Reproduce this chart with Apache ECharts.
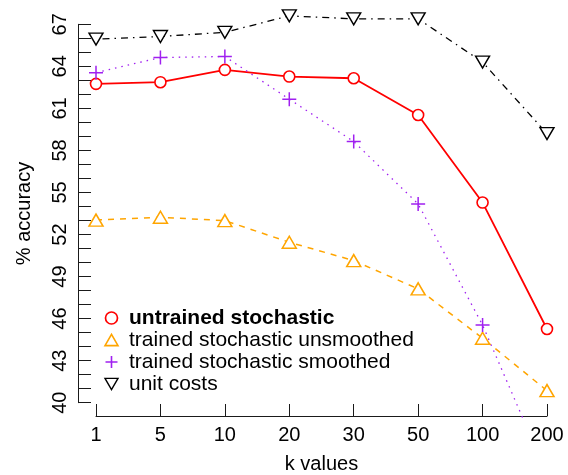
<!DOCTYPE html>
<html>
<head>
<meta charset="utf-8">
<script src="https://cdn.jsdelivr.net/npm/echarts@6/dist/echarts.min.js"></script>
<style>
html,body{margin:0;padding:0;background:#fff;}
#chart{width:568px;height:475px;}
</style>
</head>
<body>
<div id="chart"></div>
<script>
var categories = ['1', '5', '10', '20', '30', '50', '100', '200'];
var untrainedStochastic = [62.75, 62.87, 63.75, 63.27, 63.15, 60.53, 54.28, 45.26];
var trainedUnsmoothed = [53.03, 53.23, 52.99, 51.45, 50.14, 48.12, 44.6, 40.86];
var trainedSmoothed = [63.55, 64.63, 64.7, 61.66, 58.63, 54.18, 45.54, 34.9];
var unitCosts = [65.94, 66.13, 66.43, 67.6, 67.39, 67.39, 64.3, 59.2];
var yTickMin = 40, yTickMax = 67, yLabelStep = 3;
var seriesNames = ['untrained stochastic', 'trained stochastic unsmoothed', 'trained stochastic smoothed', 'unit costs'];

function pts(arr) { return arr.map(function (v, i) { return [i, v]; }); }

var FONT = 'Liberation Sans, Arial, sans-serif';
var AX = '#1a1a1a';
var circ = 'path://M0,1 A1,1 0 1,1 2,1 A1,1 0 1,1 0,1 Z';
var upTri = 'path://M0,1.732 L2,1.732 L1,0 Z';
var downTri = 'path://M0,0 L2,0 L1,1.732 Z';
var plus = 'path://M1,0 L1,2 M0,1 L2,1';

var nCat = categories.length;
var xPad = 0.28, yPad = (yTickMax - yTickMin) * 0.04;

var chart = echarts.init(document.getElementById('chart'), null, {renderer: 'canvas'});
chart.setOption({
  animation: false,
  backgroundColor: '#fff',
  grid: [
    {left: 77.96, right: 2.96, top: 9.16, bottom: 57.16},
    {left: 78, top: 24.3, bottom: 72.3, width: 20},
    {left: 96, right: 21, top: 400, bottom: 57.7}
  ],
  xAxis: [
    {gridIndex: 0, type: 'value', min: -xPad, max: nCat - 1 + xPad, show: false},
    {gridIndex: 1, type: 'value', show: false},
    {gridIndex: 2, type: 'category', data: categories, boundaryGap: false, position: 'bottom',
      axisLine: {show: true, lineStyle: {color: AX, width: 1}},
      axisTick: {show: true, inside: true, length: 12, alignWithLabel: true, lineStyle: {color: AX, width: 1}},
      axisLabel: {show: true, color: '#000', fontSize: 20, fontFamily: FONT, margin: 9, interval: 0},
      splitLine: {show: false},
      name: 'k values', nameLocation: 'middle', nameGap: 38,
      nameTextStyle: {color: '#000', fontSize: 20, fontFamily: FONT}
    }
  ],
  yAxis: [
    {gridIndex: 0, type: 'value', min: yTickMin - yPad, max: yTickMax + yPad, show: false},
    {gridIndex: 1, type: 'value', min: yTickMin, max: yTickMax, interval: 1, position: 'left',
      axisLine: {show: true, lineStyle: {color: AX, width: 1}},
      axisTick: {show: true, inside: true, length: 13, lineStyle: {color: AX, width: 1}},
      axisLabel: {show: true, rotate: 90, color: '#000', fontSize: 20, fontFamily: FONT, margin: 8,
        formatter: function (v) { return ((v - yTickMin) % yLabelStep === 0) ? String(v) : ''; }},
      splitLine: {show: false},
      name: '% accuracy', nameLocation: 'middle', nameGap: 44,
      nameTextStyle: {color: '#000', fontSize: 20, fontFamily: FONT}
    },
    {gridIndex: 2, type: 'value', show: false}
  ],
  legend: {
    orient: 'vertical', left: 103, top: 307, padding: 0, itemGap: 0, itemWidth: 13, itemHeight: 12,
    textStyle: {fontSize: 21, lineHeight: 22, fontFamily: FONT, color: '#000', padding: [0, 0, 0, 6]},
    data: [
      {name: seriesNames[0], icon: circ, itemStyle: {color: '#fff', borderColor: '#ff0000', borderWidth: 1.7}, textStyle: {fontWeight: 'bold'}},
      {name: seriesNames[1], icon: upTri, itemStyle: {color: '#fff', borderColor: '#ffa500', borderWidth: 1.6}},
      {name: seriesNames[2], icon: plus, itemStyle: {color: 'none', borderColor: '#a020f0', borderWidth: 1.6}},
      {name: seriesNames[3], icon: downTri, itemStyle: {color: '#fff', borderColor: '#000', borderWidth: 1.4}}
    ]
  },
  series: [
    {name: seriesNames[0], type: 'line', xAxisIndex: 0, yAxisIndex: 0, data: pts(untrainedStochastic),
      symbol: 'circle', symbolSize: 11,
      itemStyle: {color: '#fff', borderColor: '#ff0000', borderWidth: 1.6},
      lineStyle: {color: '#ff0000', width: 1.8}},
    {name: seriesNames[1], type: 'line', xAxisIndex: 0, yAxisIndex: 0, data: pts(trainedUnsmoothed),
      symbol: upTri, symbolSize: [14, 12],
      itemStyle: {color: '#fff', borderColor: '#ffa500', borderWidth: 1.5},
      lineStyle: {color: '#ffa500', width: 1.5, type: [6, 6]}},
    {name: seriesNames[2], type: 'line', xAxisIndex: 0, yAxisIndex: 0, data: pts(trainedSmoothed),
      symbol: plus, symbolSize: 14,
      itemStyle: {color: 'none', borderColor: '#a020f0', borderWidth: 1.5},
      lineStyle: {color: '#a020f0', width: 1.3, type: [1.5, 5]}},
    {name: seriesNames[3], type: 'line', xAxisIndex: 0, yAxisIndex: 0, data: pts(unitCosts),
      symbol: downTri, symbolSize: [14, 12],
      itemStyle: {color: '#fff', borderColor: '#000', borderWidth: 1.4},
      lineStyle: {color: '#000', width: 1.3, type: [1.5, 5, 7, 5]}}
  ]
});
</script>
</body>
</html>
